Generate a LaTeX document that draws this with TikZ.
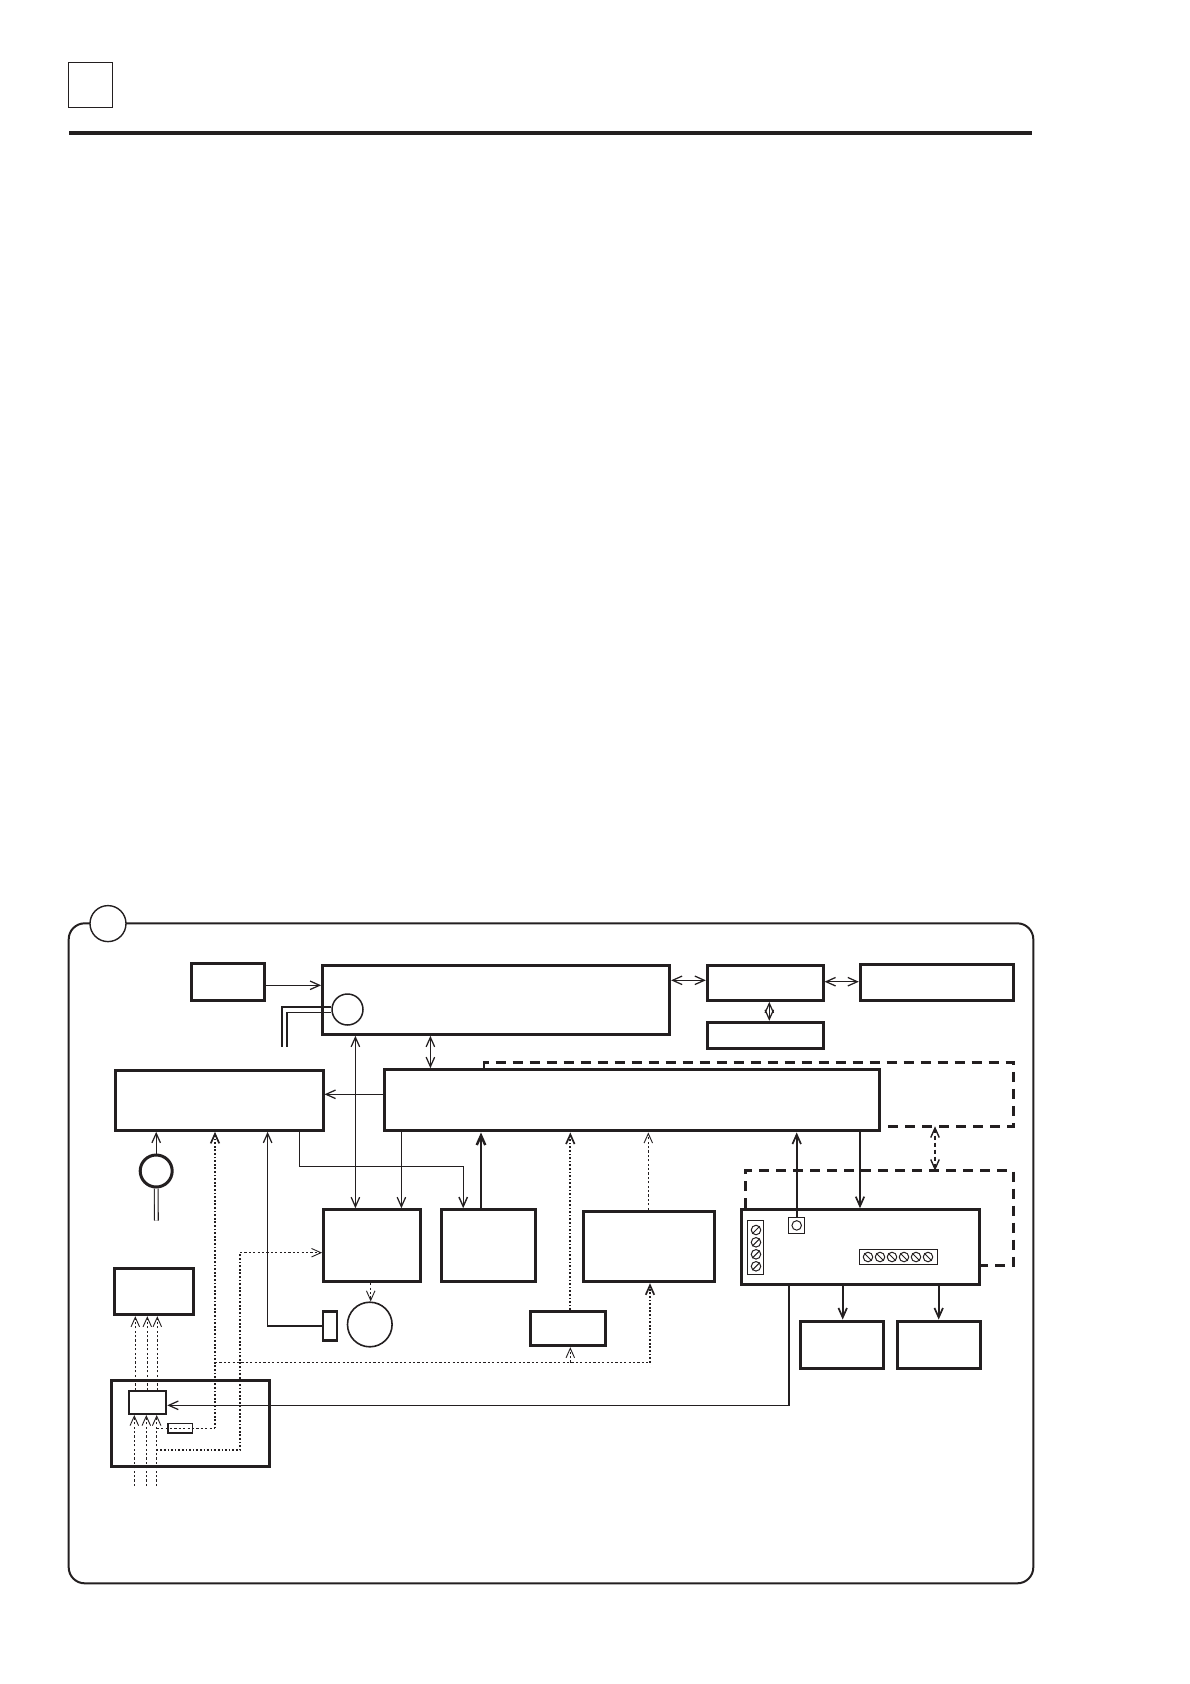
\documentclass[tikz,border=0pt]{standalone}
\usetikzlibrary{arrows.meta}
\definecolor{ink}{HTML}{231F20}
\tikzset{
  >={Straight Barb[length=9.5pt,width=8.5pt]},
  blk/.style={draw=ink,line width=3pt,rectangle,inner sep=0pt},
  disc/.style={draw=ink,circle,fill=white,inner sep=0pt},
  strip/.style={draw=ink,line width=1pt,rectangle,inner sep=0pt},
  screw/.style={draw=ink,line width=1pt,circle,inner sep=0pt,minimum size=9.5pt},
  wire/.style={draw=ink,line width=1.25pt},
  wirebold/.style={draw=ink,line width=1.7pt},
  dashbox/.style={draw=ink,line width=2.7pt,dash pattern=on 10pt off 7pt},
  dashlink/.style={draw=ink,line width=1.4pt,dash pattern=on 4pt off 3pt},
  dotfine/.style={draw=ink,line width=0.9pt,dash pattern=on 2.2pt off 2.2pt},
  dotbold/.style={draw=ink,line width=1.7pt,dash pattern=on 1.7pt off 1.9pt}
}
\begin{document}
\begin{tikzpicture}[x=1pt,y=-1pt]
\useasboundingbox (0,0) rectangle (1190,1684);
\node[draw=ink,line width=1pt,rectangle,inner sep=0pt,minimum width=44pt,minimum height=45.5pt] (pagetag) at (90.3,84.8) {};
\coordinate (ruleL) at (69,133);
\coordinate (ruleR) at (1031.8,133);
\draw[ink,line width=4pt] (ruleL) -- (ruleR);
\node[draw=ink,line width=2pt,rectangle,rounded corners=16pt,inner sep=0pt,minimum width=964.6pt,minimum height=660pt] (frame) at (551,1253.3) {};
\node[disc,line width=1.4pt,minimum size=36pt] (tag) at (108,923.6) {};

\node[blk,minimum width=73pt,minimum height=37pt] (clock) at (228,981.7) {};
\node[blk,minimum width=347pt,minimum height=68.6pt] (main) at (496.1,1000) {};
\node[blk,minimum width=115.7pt,minimum height=35pt] (link) at (765.2,982.8) {};
\node[blk,minimum width=153.4pt,minimum height=36.3pt] (host) at (937,982.2) {};
\node[blk,minimum width=115.7pt,minimum height=26.4pt] (aux) at (765.2,1035.5) {};
\node[blk,minimum width=495pt,minimum height=61.3pt] (ctrl) at (631.8,1100.3) {};
\node[blk,minimum width=207.6pt,minimum height=60pt] (drive) at (219.2,1100.3) {};
\node[blk,minimum width=97pt,minimum height=72pt] (unitA) at (372.1,1245.7) {};
\node[blk,minimum width=94pt,minimum height=72pt] (unitB) at (488.7,1245.7) {};
\node[blk,minimum width=131pt,minimum height=70.4pt] (unitC) at (649.1,1246.5) {};
\node[blk,minimum width=238.7pt,minimum height=74.6pt] (unitD) at (860.6,1247) {};
\node[blk,minimum width=83pt,minimum height=47.7pt] (unitE) at (841.5,1344.9) {};
\node[blk,minimum width=83pt,minimum height=47.7pt] (unitF) at (939.3,1344.9) {};
\node[blk,minimum width=79pt,minimum height=46pt] (panel) at (153.5,1291.7) {};
\node[blk,minimum width=158pt,minimum height=86.4pt] (board) at (190,1423.5) {};
\node[blk,minimum width=75pt,minimum height=34.2pt] (relay) at (567.5,1328.6) {};
\node[blk,line width=2pt,minimum width=37.3pt,minimum height=23pt] (inner) at (147.6,1402.5) {};
\node[blk,line width=1.5pt,minimum width=24.3pt,minimum height=9.3pt] (slot) at (180.1,1428.3) {};
\node[blk,line width=2.5pt,minimum width=14pt,minimum height=29.3pt] (sense) at (330,1326) {};
\node[disc,line width=1.6pt,minimum size=44.6pt] (motor) at (369.8,1324.5) {};
\node[disc,line width=3pt,minimum size=32pt] (pickup) at (156.2,1171) {};
\node[disc,line width=1.5pt,minimum size=31pt] (probe) at (347.5,1009.5) {};

\node[strip,minimum width=16pt,minimum height=15.3pt] (switch) at (796.7,1225.4) {};
\node[screw] (knob) at (796.7,1225.4) {};
\node[strip,minimum width=16pt,minimum height=54pt] (stripL) at (755.3,1247.7) {};
\node[strip,minimum width=78.7pt,minimum height=15.7pt] (stripR) at (898.4,1256.9) {};
\foreach \n/\y in {1/1230,2/1242.3,3/1254.3,4/1266.3} {
  \node[screw] (sl\n) at (756,\y) {};
  \draw[ink,line width=1pt] (sl\n.45) -- (sl\n.225);
}
\foreach \n/\x in {1/868,2/880,3/892,4/904,5/916,6/928} {
  \node[screw] (sr\n) at (\x,1257) {};
  \draw[ink,line width=1pt] (sr\n.135) -- (sr\n.315);
}

\draw[wire,->] (clock.east |- 0,985.3) -- (main.west |- 0,985.3);
\draw[wire,<->] (main.east |- 0,980.3) -- (link.west |- 0,980.3);
\draw[wire,<->] (link.east |- 0,981.7) -- (host.west |- 0,981.7);
\draw[wire,<->] (link.south -| 769.3,0) -- (aux.north -| 769.3,0);
\draw[wire,<->] (main.south -| 430.4,0) -- (ctrl.north -| 430.4,0);
\draw[wire,<->] (main.south -| 355.4,0) -- (unitA.north -| 355.4,0);
\draw[wire,->] (ctrl.west |- 0,1094.3) -- (drive.east |- 0,1094.3);
\draw[wire,->] (ctrl.south -| 401.4,0) -- (unitA.north -| 401.4,0);
\coordinate (elbow) at (463.2,1166.7);
\draw[draw=ink,line width=1.4pt,->] (drive.south -| 299.3,0) |- (elbow) -- (unitB.north -| elbow);
\draw[draw=ink,line width=2.5pt,->] (unitB.north -| 481,0) -- (ctrl.south -| 481,0);
\draw[wirebold,->] (switch.north) -- (ctrl.south -| switch.north);
\draw[wirebold,->] (ctrl.south -| 860,0) -- (unitD.north -| 860,0);
\draw[wirebold,->] (unitD.south -| 842.7,0) -- (unitE.north -| 842.7,0);
\draw[wirebold,->] (unitD.south -| 938.7,0) -- (unitF.north -| 938.7,0);
\draw[wire,->] (unitD.south -| 789,0) |- (inner.east |- 0,1405.3);
\draw[wire,->] (sense.west) -| (drive.south -| 267.6,0);
\draw[wire,->] (pickup.north) -- (drive.south -| pickup.north);

\coordinate (leadP) at (156.4,1220.7);
\draw[draw=ink,line width=1.1pt,double=white,double distance=2.6pt] (pickup.south) -- (leadP);
\coordinate (pipeA) at (281.8,1046.7);
\coordinate (pipeB) at (287.1,1046.7);
\draw[draw=ink,line width=1.8pt] (pipeA) |- (probe.west |- 0,1006.7);
\draw[draw=ink,line width=1.3pt] (pipeB) |- (probe.west |- 0,1012.7);

\coordinate (netA) at (1013.3,1126.3);
\coordinate (netB) at (1013.3,1170.7);
\draw[dashbox] (ctrl.north -| 484,0) |- (netA |- 0,1062.7) -- (netA) -- (ctrl.east |- netA);
\draw[dashbox] (unitD.north -| 745.7,0) |- (netB) -- (netB |- 0,1265.3) -- (unitD.east |- 0,1265.3);
\draw[dashlink,<->] (netA -| 935,0) -- (netB -| 935,0);

\coordinate (inA) at (134.3,1486);
\coordinate (inB) at (146.3,1486);
\coordinate (inC) at (156.7,1486);
\draw[dotfine,->] (inA) -- (inner.south -| inA);
\draw[dotfine,->] (inB) -- (inner.south -| inB);
\draw[dotfine,->] (inC) -- (inner.south -| inC);
\draw[dotfine,->] (inner.north -| 135.3,0) -- (panel.south -| 135.3,0);
\draw[dotfine,->] (inner.north -| 147.3,0) -- (panel.south -| 147.3,0);
\draw[dotfine,->] (inner.north -| 157.3,0) -- (panel.south -| 157.3,0);

\coordinate (busA) at (215,1428.3);
\coordinate (busB) at (240,1450);
\coordinate (busC) at (650,1362.5);
\draw[dotfine] (inC |- busA) -- (busA);
\draw[dotbold,->] (busA) -- (drive.south -| busA);
\draw[dotbold] (inC |- busB) -- (busB) -- (busB |- 0,1252.7);
\draw[dotfine,->] (busB |- 0,1252.7) -- (unitA.west |- 0,1252.7);
\draw[dotfine] (busA |- busC) -- (busC);
\draw[dotbold,->] (busC) -- (unitC.south -| busC);
\draw[dotfine,->] (busC -| 570.3,0) -- (relay.south -| 570.3,0);
\draw[dotbold,->] (relay.north -| 570.3,0) -- (ctrl.south -| 570.3,0);
\draw[dotfine,->] (unitC.north -| 648.3,0) -- (ctrl.south -| 648.3,0);
\draw[dotfine,->] (unitA.south -| 370.7,0) -- (motor.north -| 370.7,0);
\end{tikzpicture}
\end{document}
